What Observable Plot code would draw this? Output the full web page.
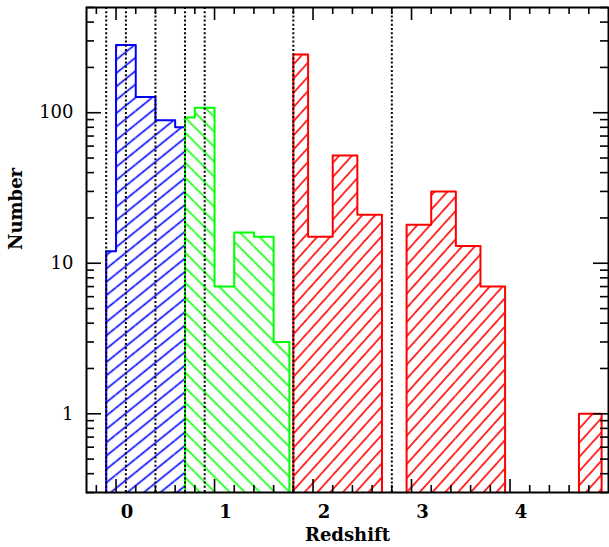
<!DOCTYPE html>
<html><head><meta charset="utf-8">
<script src="https://cdn.jsdelivr.net/npm/d3@7"></script>
<script src="https://cdn.jsdelivr.net/npm/@observablehq/plot@0.6"></script>
<style>body{margin:0;background:#fff} svg{display:block}</style>
</head><body><div id="chart"></div>
<script>
// ---- data ----
const blueEdges = [-0.1, 0, 0.2, 0.4, 0.6, 0.7];
const blueCounts = [12, 282, 127, 89, 80];
const greenEdges = [0.7, 0.8, 1.0, 1.2, 1.4, 1.6, 1.76];
const greenCounts = [93, 108, 7, 16, 15, 3];
const redEdges1 = [1.8, 1.95, 2.2, 2.45, 2.7];
const redCounts1 = [244, 15, 52, 21];
const redEdges2 = [2.95, 3.2, 3.45, 3.7, 3.95];
const redCounts2 = [18, 30, 13, 7];
const redEdges3 = [4.7, 4.93];
const redCounts3 = [1];
const dottedLines = [-0.1, 0.1, 0.4, 0.7, 0.9, 1.8, 2.8];
const xTickLabels = [0, 1, 2, 3, 4];
const yTickLabels = [1, 10, 100];
const xDomain = [-0.3, 5.0];
const yDomain = [0.3, 500];

// ---- layout ----
const W = 609, H = 547;
const mL = 86, mR = 1, mT = 7, mB = 55;
const plotW = W - mL - mR, plotH = H - mT - mB;

const groups = [
  {segs: [[blueEdges, blueCounts]], color: "#0000ff", pat: "hatch-blue"},
  {segs: [[greenEdges, greenCounts]], color: "#00ff00", pat: "hatch-green"},
  {segs: [[redEdges1, redCounts1], [redEdges2, redCounts2], [redEdges3, redCounts3]], color: "#ff0000", pat: "hatch-red"}
];

const yMin = yDomain[0];
const marks = [];
for (const g of groups) {
  const bins = [], outline = [];
  g.segs.forEach(([edges, counts], si) => {
    counts.forEach((c, i) => bins.push({x1: edges[i], x2: edges[i + 1], y: c}));
    outline.push({x: edges[0], y: yMin, s: si});
    counts.forEach((c, i) => outline.push({x: edges[i], y: c, s: si}));
    outline.push({x: edges[edges.length - 1], y: counts[counts.length - 1], s: si});
    outline.push({x: edges[edges.length - 1], y: yMin, s: si});
  });
  marks.push(Plot.rectY(bins, {x1: "x1", x2: "x2", y1: () => yMin, y2: "y", fill: `url(#${g.pat})`, inset: 0}));
  marks.push(Plot.line(outline, {x: "x", y: "y", z: "s", curve: "step-after", stroke: g.color, strokeWidth: 2}));
}

// ticks
const xMinor = d3.range(-1, 25).map(i => i / 5).filter(v => !xTickLabels.includes(Math.round(v * 10) / 10));
const yMinor = [];
for (const dec of [0.1, 1, 10, 100]) for (let k = 2; k <= 9; k++) {
  const v = +(k * dec).toPrecision(3);
  if (v >= yDomain[0] && v <= yDomain[1]) yMinor.push(v);
}

const tickStyle = {stroke: "black", strokeWidth: 1.6};
marks.push(
  Plot.ruleX(dottedLines, {x: d => d, stroke: "black", strokeWidth: 2, strokeDasharray: "2 2.2"}),
  // bottom & top x ticks (inward)
  Plot.tickX(xMinor, {x: d => d, ...tickStyle, insetTop: plotH - 7}),
  Plot.tickX(xTickLabels, {x: d => d, ...tickStyle, insetTop: plotH - 13}),
  Plot.tickX(xMinor, {x: d => d, ...tickStyle, insetBottom: plotH - 7}),
  Plot.tickX(xTickLabels, {x: d => d, ...tickStyle, insetBottom: plotH - 13}),
  // left & right y ticks (inward)
  Plot.tickY(yMinor, {y: d => d, ...tickStyle, insetRight: plotW - 8}),
  Plot.tickY(yTickLabels, {y: d => d, ...tickStyle, insetRight: plotW - 15}),
  Plot.tickY(yMinor, {y: d => d, ...tickStyle, insetLeft: plotW - 8}),
  Plot.tickY(yTickLabels, {y: d => d, ...tickStyle, insetLeft: plotW - 15}),
  Plot.frame({stroke: "black", strokeWidth: 2}),
  Plot.axisX(xTickLabels, {tickSize: 0, tickPadding: 13, dx: 11, fontSize: 18, fontWeight: "bold", label: null}),
  Plot.axisY(yTickLabels, {tickSize: 0, tickPadding: 13, fontSize: 18, label: null, tickFormat: d => String(d)}),
  Plot.text(["Number"], {text: d => d, frameAnchor: "left", lineAnchor: "middle", dx: -70, rotate: -90, fontSize: 18, fontWeight: "bold"}),
  Plot.text(["Redshift"], {text: d => d, frameAnchor: "bottom", lineAnchor: "middle", dy: 43, fontSize: 18, fontWeight: "bold"})
);

const svg = Plot.plot({
  width: W, height: H,
  marginLeft: mL, marginRight: mR, marginTop: mT, marginBottom: mB,
  style: {fontFamily: "'DejaVu Serif', serif", fontSize: "18px", background: "white", color: "black"},
  x: {domain: xDomain, label: null},
  y: {type: "log", domain: yDomain, label: null},
  marks
});

// hatch patterns
const defs = d3.select(svg).insert("defs", ":first-child");
function hatch(id, color, spacing, angle) {
  const p = defs.append("pattern").attr("id", id)
    .attr("patternUnits", "userSpaceOnUse")
    .attr("width", spacing).attr("height", spacing)
    .attr("patternTransform", `rotate(${angle})`);
  p.append("line").attr("x1", -1).attr("y1", spacing / 2).attr("x2", spacing + 1).attr("y2", spacing / 2)
    .attr("stroke", color).attr("stroke-width", 1.6);
}
hatch("hatch-blue", "#0000ff", 10.4, -39);
hatch("hatch-green", "#00ff00", 10.6, 45);
hatch("hatch-red", "#ff0000", 9.5, -48);

document.getElementById("chart").appendChild(svg);
</script>
</body></html>
